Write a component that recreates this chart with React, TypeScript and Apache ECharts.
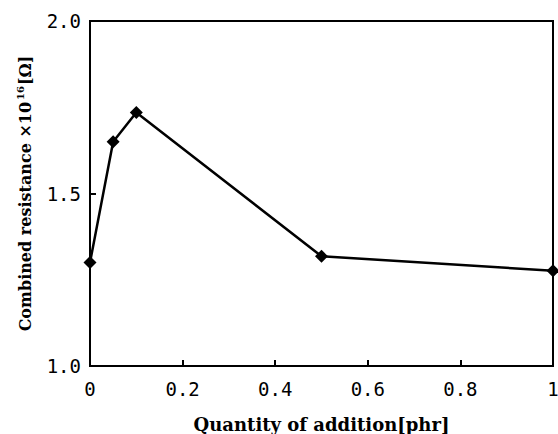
import React, { useEffect, useRef } from "react";
import * as echarts from "echarts";

const quantity = [0, 0.05, 0.1, 0.5, 1.0];
const resistance = [1.3, 1.65, 1.735, 1.318, 1.276];
const xTicks = [0, 0.2, 0.4, 0.6, 0.8, 1];
const yTicks = [1.0, 1.5, 2.0];

export default function App() {
  const ref = useRef<HTMLDivElement>(null);
  useEffect(() => {
    if (!ref.current) return;
    const chart = echarts.init(ref.current, null, { renderer: "svg" });
    const axisFont = { fontFamily: "DejaVu Sans Mono", fontSize: 19, color: "#000" };
    chart.setOption({
      animation: false,
      backgroundColor: "#fff",
      grid: {
        left: 90,
        right: 5,
        top: 21,
        bottom: 68,
        show: true,
        borderColor: "#000",
        borderWidth: 2,
        containLabel: false,
        outerBoundsMode: "none",
      },
      xAxis: {
        type: "value",
        min: xTicks[0],
        max: xTicks[xTicks.length - 1],
        interval: 0.2,
        axisLine: { show: true, lineStyle: { color: "#000", width: 2 } },
        axisTick: { show: true, inside: true, length: 6, lineStyle: { color: "#000", width: 2 } },
        splitLine: { show: false },
        axisLabel: { ...axisFont, margin: 13 },
        name: "Quantity of addition[phr]",
        nameLocation: "middle",
        nameGap: 49,
        nameTextStyle: { fontFamily: "DejaVu Serif", fontWeight: "bold", fontSize: 18, color: "#000" },
      },
      yAxis: {
        type: "value",
        min: yTicks[0],
        max: yTicks[yTicks.length - 1],
        interval: 0.5,
        axisLine: { show: true, lineStyle: { color: "#000", width: 2 } },
        axisTick: { show: true, inside: true, length: 6, lineStyle: { color: "#000", width: 2 } },
        splitLine: { show: false },
        axisLabel: { ...axisFont, margin: 9, formatter: (v: number) => v.toFixed(1) },
        name: "{a|Combined resistance ×10}{b|16}{a|[Ω]}",
        nameLocation: "middle",
        nameGap: 55,
        nameTextStyle: {
          rich: {
            a: { fontFamily: "DejaVu Serif", fontWeight: "bold", fontSize: 16, color: "#000", lineHeight: 20 },
            b: { fontFamily: "DejaVu Serif", fontWeight: "bold", fontSize: 10, color: "#000", verticalAlign: "top", lineHeight: 20, padding: [0, 1, 6, 2] },
          },
        },
      },
      series: [
        {
          type: "line",
          data: quantity.map((q, i) => [q, resistance[i]]),
          symbol: "diamond",
          symbolSize: 13,
          itemStyle: { color: "#000" },
          lineStyle: { color: "#000", width: 2.5 },
          clip: false,
        },
      ],
    });
    return () => chart.dispose();
  }, []);
  return <div ref={ref} style={{ width: 558, height: 434, position: "absolute", left: 0, top: 0 }} />;
}
